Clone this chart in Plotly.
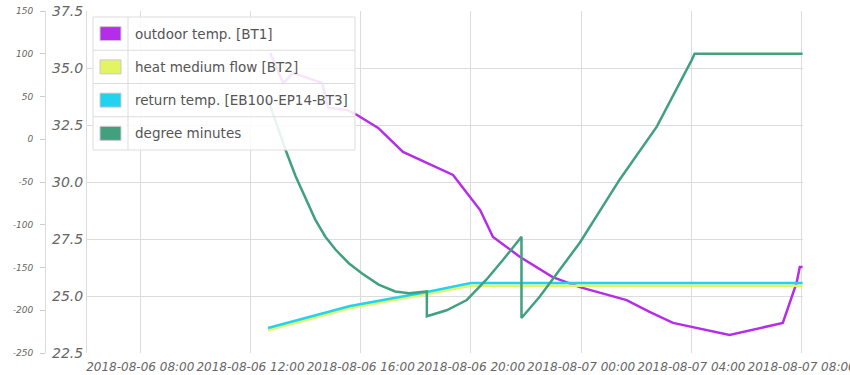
import plotly.graph_objects as go

# ---------------- data ----------------
outdoor_t = ["2018-08-06 12:43", "2018-08-06 13:11", "2018-08-06 13:33", "2018-08-06 14:36",
             "2018-08-06 14:49", "2018-08-06 15:30", "2018-08-06 15:52", "2018-08-06 16:38",
             "2018-08-06 17:32", "2018-08-06 19:21", "2018-08-06 20:20", "2018-08-06 20:48",
             "2018-08-06 21:47", "2018-08-06 22:58", "2018-08-06 23:57", "2018-08-07 01:39",
             "2018-08-07 02:29", "2018-08-07 03:20", "2018-08-07 05:23", "2018-08-07 07:19",
             "2018-08-07 07:49", "2018-08-07 07:56", "2018-08-07 08:02"]
outdoor_v = [35.66, 34.34, 34.78, 34.34, 33.25, 33.16, 32.94, 32.37, 31.32, 30.31, 28.77, 27.59,
             26.71, 25.83, 25.39, 24.82, 24.30, 23.82, 23.29, 23.82, 25.57, 26.27, 26.27]

flow_t = ["2018-08-06 12:38", "2018-08-06 15:37", "2018-08-06 18:24", "2018-08-06 20:00", "2018-08-07 08:02"]
flow_v = [23.50, 24.47, 25.09, 25.45, 25.45]

return_t = ["2018-08-06 12:38", "2018-08-06 15:37", "2018-08-06 18:24", "2018-08-06 20:00", "2018-08-07 08:02"]
return_v = [23.60, 24.56, 25.18, 25.57, 25.57]

dm_t = ["2018-08-06 12:38", "2018-08-06 13:16", "2018-08-06 13:38", "2018-08-06 14:00",
        "2018-08-06 14:21", "2018-08-06 14:43", "2018-08-06 15:05", "2018-08-06 15:34",
        "2018-08-06 16:03", "2018-08-06 16:39", "2018-08-06 17:15", "2018-08-06 17:45",
        "2018-08-06 18:24", "2018-08-06 18:24", "2018-08-06 19:07", "2018-08-06 19:51",
        "2018-08-06 20:34", "2018-08-06 21:10", "2018-08-06 21:50", "2018-08-06 21:50",
        "2018-08-06 22:30", "2018-08-06 23:06", "2018-08-06 23:57", "2018-08-07 01:24",
        "2018-08-07 02:45", "2018-08-07 04:00", "2018-08-07 04:07", "2018-08-07 08:02"]
dm_v = [47, -12, -43, -70, -94, -114, -129, -145, -157, -170, -178, -180,
        -178, -207, -200, -188, -164, -141, -114, -209,
        -184, -158, -121, -47, 15, 92, 100, 100]

series_names = ["outdoor temp. [BT1]", "heat medium flow [BT2]",
                "return temp. [EB100-EP14-BT3]", "degree minutes"]
series_colors = ["#b62de9", "#e2f462", "#22d3f0", "#41a17f"]

x_ticks = ["2018-08-06 08:00", "2018-08-06 12:00", "2018-08-06 16:00", "2018-08-06 20:00",
           "2018-08-07 00:00", "2018-08-07 04:00", "2018-08-07 08:00"]
y_ticks = [22.5, 25.0, 27.5, 30.0, 32.5, 35.0, 37.5]
y2_ticks = [-250, -200, -150, -100, -50, 0, 50, 100, 150]

# ---------------- figure ----------------
W, H = 850, 375
ML, MR, MT, MB = 0, 47, 11, 22
PW, PH = W - ML - MR, H - MT - MB


def px(x):
    return (x - ML) / PW


def py(y):
    return (H - MB - y) / PH


fig = go.Figure()
LW = 2.5
fig.add_trace(go.Scatter(x=outdoor_t, y=outdoor_v, mode="lines", name=series_names[0],
                         line=dict(color=series_colors[0], width=LW), yaxis="y"))
fig.add_trace(go.Scatter(x=flow_t, y=flow_v, mode="lines", name=series_names[1],
                         line=dict(color=series_colors[1], width=LW), yaxis="y"))
fig.add_trace(go.Scatter(x=return_t, y=return_v, mode="lines", name=series_names[2],
                         line=dict(color=series_colors[2], width=LW), yaxis="y"))
fig.add_trace(go.Scatter(x=dm_t, y=dm_v, mode="lines", name=series_names[3],
                         line=dict(color=series_colors[3], width=LW), yaxis="y2"))

grid = "#dcdcdc"

fig.update_layout(
    width=W, height=H,
    margin=dict(l=ML, r=MR, t=MT, b=MB, autoexpand=False),
    paper_bgcolor="white", plot_bgcolor="white",
    showlegend=False,
    xaxis=dict(
        domain=[px(87), 1],
        range=["2018-08-06 06:04", "2018-08-07 08:03"],
        tickvals=x_ticks, ticktext=x_ticks, tickangle=0,
        ticklabeloverflow="allow", ticklabelstandoff=5,
        tickfont=dict(family="DejaVu Sans", size=12, color="#666666", style="italic"),
        showgrid=True, gridcolor=grid, gridwidth=1,
        showline=False, zeroline=False, ticks="", automargin=False,
    ),
    yaxis=dict(
        range=[22.5, 37.5], tickvals=y_ticks,
        ticktext=[f"{v:.1f}" for v in y_ticks],
        tickfont=dict(family="DejaVu Sans", size=14, color="#666666", style="italic"),
        showgrid=True, gridcolor=grid, gridwidth=1,
        showline=True, linecolor=grid, zeroline=False, ticks="", automargin=False,
    ),
    yaxis2=dict(
        overlaying="y", side="left", anchor="free", position=px(45),
        range=[-250, 150], tickvals=y2_ticks,
        ticktext=[str(v) for v in y2_ticks],
        tickfont=dict(family="DejaVu Sans", size=9, color="#666666", style="italic"),
        showgrid=False, showline=True, linecolor=grid, zeroline=False,
        ticks="outside", ticklen=5, tickcolor="#cccccc", automargin=False,
        ticklabelstandoff=5,
    ),
)

# ---------------- legend table (drawn above the plot) ----------------
LX0, LX1, LY0, LY1, COL = 93, 355, 17, 150, 128
row_h = (LY1 - LY0) / len(series_names)
border = "#dddddd"
fig.add_shape(type="rect", xref="paper", yref="paper",
              x0=px(LX0), x1=px(LX1), y0=py(LY1), y1=py(LY0),
              fillcolor="rgba(255,255,255,0.88)", line=dict(color=border, width=1), layer="above")
fig.add_shape(type="line", xref="paper", yref="paper",
              x0=px(COL), x1=px(COL), y0=py(LY1), y1=py(LY0),
              line=dict(color=border, width=1), layer="above")
for i, (name, col) in enumerate(zip(series_names, series_colors)):
    top = LY0 + i * row_h
    mid = top + row_h / 2
    if i > 0:
        fig.add_shape(type="line", xref="paper", yref="paper",
                      x0=px(LX0), x1=px(LX1), y0=py(top), y1=py(top),
                      line=dict(color=border, width=1), layer="above")
    fig.add_shape(type="rect", xref="paper", yref="paper",
                  x0=px(100), x1=px(121), y0=py(mid + 7), y1=py(mid - 7),
                  fillcolor=col, line=dict(color="#cfc8d0", width=1), layer="above")
    fig.add_annotation(xref="paper", yref="paper", x=px(133), y=py(mid),
                       xanchor="left", yanchor="middle", showarrow=False, text=name,
                       font=dict(family="DejaVu Sans", size=13.5, color="#555555"))

fig.write_html("out.html",
               config={"displayModeBar": False},
               post_script="document.body.style.margin='0';document.body.style.overflow='hidden';")
